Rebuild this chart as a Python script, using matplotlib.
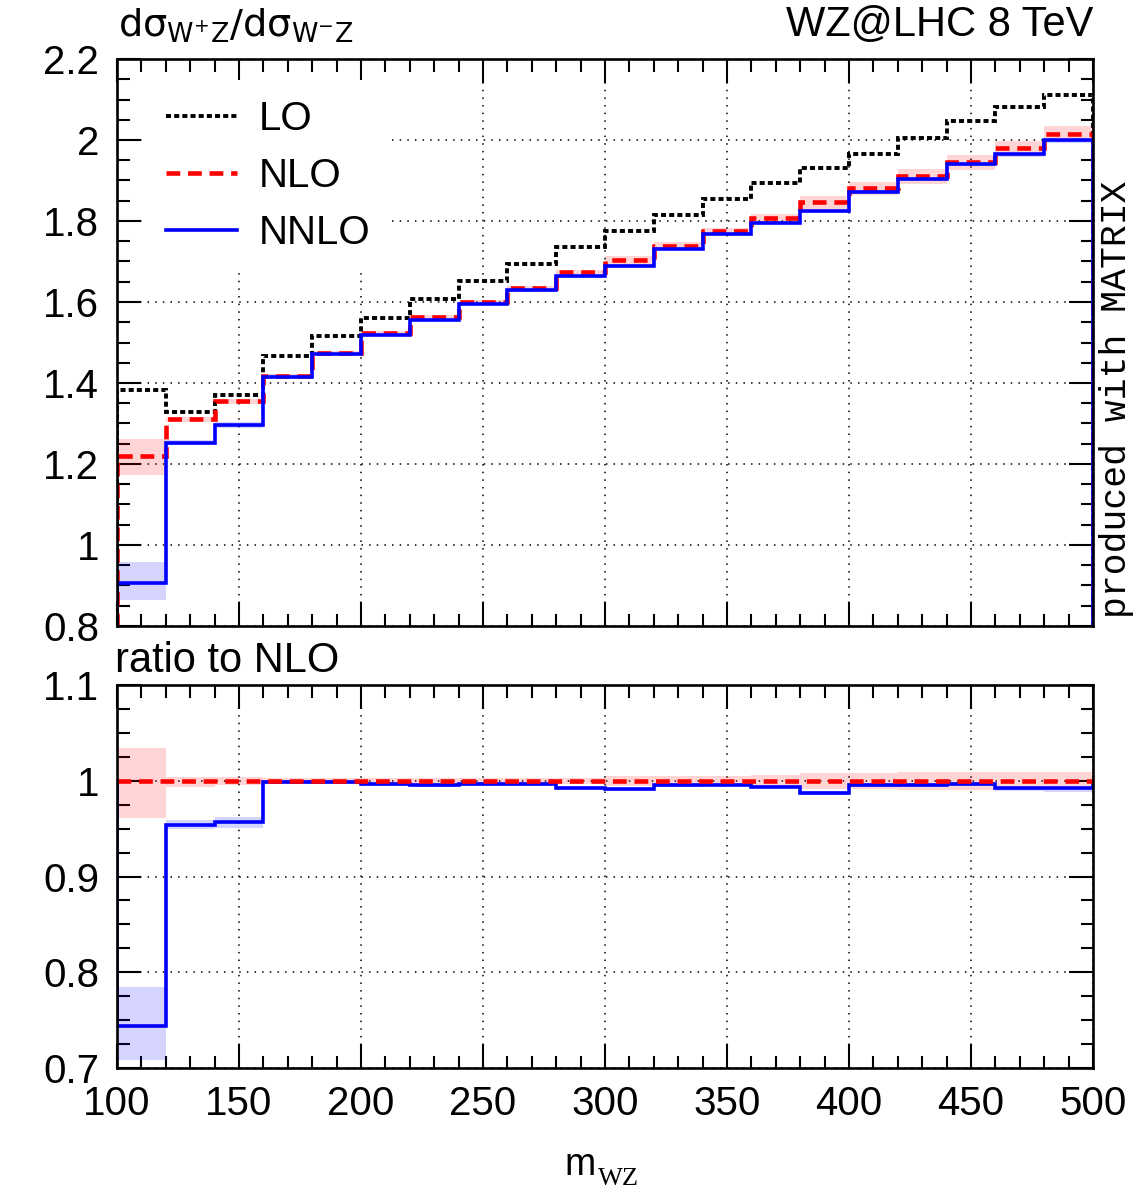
import numpy as np
import matplotlib
matplotlib.use("Agg")
import matplotlib.pyplot as plt
from matplotlib.ticker import MultipleLocator, FormatStrFormatter

# ---------------- data ----------------
edges = [100, 120, 140, 160, 180, 200, 220, 240, 260, 280, 300,
         320, 340, 360, 380, 400, 420, 440, 460, 480, 500]
lo = [1.383, 1.329, 1.371, 1.466, 1.515, 1.561, 1.607, 1.652, 1.694, 1.735,
      1.776, 1.815, 1.854, 1.894, 1.931, 1.966, 2.006, 2.046, 2.082, 2.112]
nlo = [1.220, 1.312, 1.355, 1.418, 1.474, 1.524, 1.563, 1.601, 1.635, 1.675,
       1.704, 1.739, 1.775, 1.807, 1.847, 1.881, 1.911, 1.946, 1.980, 2.016]
nnlo = [0.907, 1.252, 1.297, 1.416, 1.472, 1.519, 1.556, 1.596, 1.629, 1.663,
        1.690, 1.732, 1.768, 1.796, 1.824, 1.872, 1.903, 1.940, 1.966, 2.001]
# relative scale-uncertainty bands (up / down)
nlo_up = [0.034, 0.004, 0.0035, 0.003, 0.003, 0.003, 0.003, 0.003, 0.003, 0.003,
          0.005, 0.005, 0.005, 0.006, 0.008, 0.008, 0.009, 0.009, 0.009, 0.009]
nlo_dn = [0.039, 0.007, 0.0045, 0.003, 0.003, 0.003, 0.003, 0.003, 0.003, 0.003,
          0.006, 0.006, 0.006, 0.006, 0.009, 0.009, 0.010, 0.010, 0.010, 0.010]
nnlo_up = [0.055, 0.005, 0.005, 0.002, 0.002, 0.002, 0.002, 0.002, 0.002, 0.002,
           0.002, 0.002, 0.002, 0.002, 0.002, 0.002, 0.002, 0.002, 0.001, 0.001]
nnlo_dn = [0.047, 0.005, 0.007, 0.002, 0.002, 0.002, 0.002, 0.002, 0.002, 0.002,
           0.002, 0.002, 0.002, 0.002, 0.002, 0.002, 0.002, 0.002, 0.004, 0.004]

edges = np.array(edges, float)
lo, nlo, nnlo = map(np.array, (lo, nlo, nnlo))
nlo_up, nlo_dn, nnlo_up, nnlo_dn = map(np.array, (nlo_up, nlo_dn, nnlo_up, nnlo_dn))

# ---------------- style ----------------
plt.rcParams['font.family'] = ['Liberation Sans', 'DejaVu Sans']
plt.rcParams['mathtext.fontset'] = 'dejavusans'
plt.rcParams['mathtext.default'] = 'regular'

W, H = 1140, 1200
fig = plt.figure(figsize=(W / 100, H / 100), dpi=100)

def fx(px):
    return px / W

def fy(py):
    return 1 - py / H

ax1 = fig.add_axes([fx(117), fy(626), fx(976), 567 / H])
ax2 = fig.add_axes([fx(117), fy(1068), fx(976), 383 / H])

RED_BAND = (1.0, 0.0, 0.0, 0.17)
BLUE_BAND = (0.0, 0.0, 1.0, 0.17)
lo_style = dict(color='black', lw=2.8, linestyle=(0, (1.3, 0.8)))
nlo_style = dict(color='red', lw=3.3, linestyle=(0, (3.0, 1.7)))
nnlo_style = dict(color='blue', lw=2.6, linestyle='-')

# upper panel
ax1.stairs(nlo * (1 + nlo_up), edges, baseline=nlo * (1 - nlo_dn), fill=True,
           color=RED_BAND, lw=0, zorder=1)
ax1.stairs(nnlo * (1 + nnlo_up), edges, baseline=nnlo * (1 - nnlo_dn), fill=True,
           color=BLUE_BAND, lw=0, zorder=1)
ax1.stairs(lo, edges, baseline=0, label='LO', zorder=2, **lo_style)
ax1.stairs(nlo, edges, baseline=0, label='NLO', zorder=2, **nlo_style)
ax1.stairs(nnlo, edges, baseline=0, label='NNLO', zorder=2, **nnlo_style)

# ratio panel
r_nlo = nlo / nlo
r_nnlo = nnlo / nlo
ax2.stairs(r_nlo * (1 + nlo_up), edges, baseline=r_nlo * (1 - nlo_dn), fill=True,
           color=RED_BAND, lw=0, zorder=1)
ax2.stairs(r_nnlo * (1 + nnlo_up), edges, baseline=r_nnlo * (1 - nnlo_dn), fill=True,
           color=BLUE_BAND, lw=0, zorder=1)
ax2.stairs(r_nnlo, edges, baseline=1.0, zorder=2, **nnlo_style)
ax2.stairs(r_nlo, edges, baseline=1.0, zorder=2, **nlo_style)

ax1.set_xlim(100, 500)
ax1.set_ylim(0.8, 2.2)
ax2.set_xlim(100, 500)
ax2.set_ylim(0.7, 1.1)

for ax, ymaj, ymin in ((ax1, 0.2, 0.05), (ax2, 0.1, 0.025)):
    ax.xaxis.set_major_locator(MultipleLocator(50))
    ax.xaxis.set_minor_locator(MultipleLocator(10))
    ax.yaxis.set_major_locator(MultipleLocator(ymaj))
    ax.yaxis.set_minor_locator(MultipleLocator(ymin))
    ax.yaxis.set_major_formatter(FormatStrFormatter('%g'))
    ax.tick_params(which='both', direction='in', top=True, right=True,
                   width=1.5, colors='black')
    ax.tick_params(which='major', length=17)
    ax.tick_params(which='minor', length=9)
    ax.tick_params(axis='y', which='major', labelsize=29, pad=13)
    ax.tick_params(axis='x', which='major', labelsize=29, pad=12)
    ax.grid(True, which='major', color='black', linestyle=(0, (1, 4)), lw=1.1)
    ax.set_axisbelow(True)
    for sp in ax.spines.values():
        sp.set_linewidth(1.9)
        sp.set_zorder(3)

ax1.tick_params(axis='x', labelbottom=False)

# legend
fs_leg = 29
leg = ax1.legend(loc='upper left', bbox_to_anchor=(0.0297, 0.9627), borderaxespad=0,
                 fontsize=fs_leg, frameon=True, fancybox=False, framealpha=1.0,
                 edgecolor='none', facecolor='white', handlelength=1.76,
                 handletextpad=0.55, labelspacing=0.47, borderpad=0.5)
leg.set_zorder(5)

# texts
fig.text(fx(118), fy(37), r'd$\sigma_{W^{+}Z}$/d$\sigma_{W^{-}Z}$',
         fontsize=27.5, ha='left', va='baseline', family='DejaVu Sans')
fig.text(fx(1093), fy(36), 'WZ@LHC 8 TeV', fontsize=30, ha='right', va='baseline')
fig.text(fx(115), fy(672), 'ratio to NLO', fontsize=30, ha='left', va='baseline')
fig.text(fx(1117), fy(618), 'produced with MATRIX', fontsize=26.2, rotation=90,
         ha='center', va='bottom', family='Liberation Mono')
fig.text(fx(564), fy(1175), 'm', fontsize=27, ha='left', va='baseline')
fig.text(fx(598), fy(1185), 'WZ', fontsize=19, ha='left', va='baseline',
         family='Liberation Serif')

fig.savefig('out.png', dpi=100)
